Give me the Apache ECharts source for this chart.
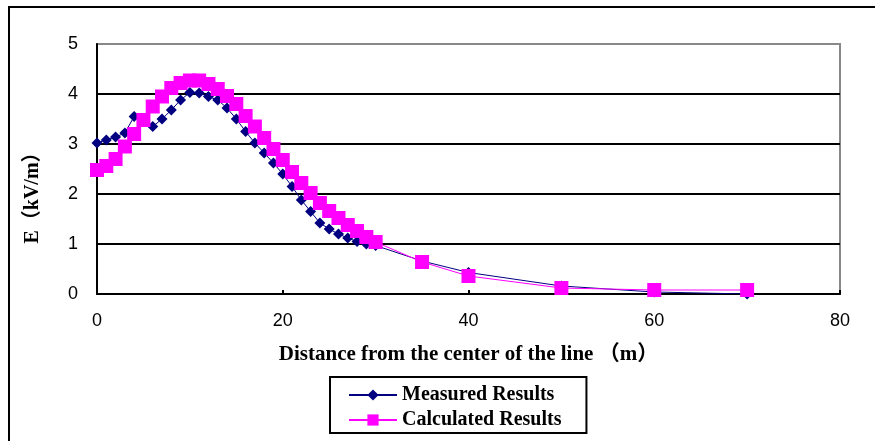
<!DOCTYPE html>
<html>
<head>
<meta charset="utf-8">
<script src="https://cdn.jsdelivr.net/npm/echarts@6/dist/echarts.min.js"></script>
<style>html,body{margin:0;padding:0;background:#fff}#c{width:875px;height:441px}</style>
</head>
<body>
<div id="c"></div>
<script>
var distances = [0,1,2,3,4,5,6,7,8,9,10,11,12,13,14,15,16,17,18,19,20,21,22,23,24,25,26,27,28,29,30,35,40,50,60,70];
var measured = [3.02,3.08,3.14,3.22,3.55,3.45,3.35,3.5,3.68,3.88,4.03,4.02,3.95,3.88,3.72,3.5,3.25,3.02,2.82,2.62,2.4,2.15,1.88,1.65,1.42,1.3,1.2,1.12,1.05,1.0,0.97,0.66,0.43,0.16,0.04,0.0];
var calculated = [2.48,2.56,2.7,2.95,3.2,3.48,3.75,3.95,4.12,4.22,4.27,4.27,4.2,4.1,3.96,3.8,3.56,3.35,3.12,2.9,2.68,2.44,2.22,2.02,1.82,1.66,1.52,1.38,1.26,1.14,1.04,0.64,0.36,0.12,0.08,0.08];
var seriesNames = ['Measured Results','Calculated Results'];
var xTitle = 'Distance from the center of the line （m）';
var yTitle = 'E（kV/m）';

function pairs(xs, ys){ return xs.map(function(x,i){ return [x, ys[i]]; }); }

var serif = '"Liberation Serif", "Noto Sans CJK SC", serif';
var sans = '"Liberation Sans", Arial, sans-serif';
var chart = echarts.init(document.getElementById('c'), null, {renderer:'canvas'});
chart.setOption({
  animation:false,
  backgroundColor:'#fff',
  graphic:[{type:'polyline', shape:{points:[[9,441],[9,7],[875,7]]}, style:{stroke:'#000', lineWidth:2, fill:null}}],
  grid:{left:97, right:35, top:44, bottom:147, show:true, borderColor:'#888', borderWidth:2, backgroundColor:'transparent'},
  legend:{
    orient:'vertical', left:330, top:377,
    padding:[8,25,3,18], itemGap:5, itemWidth:48, itemHeight:14,
    borderColor:'#000', borderWidth:2,
    textStyle:{fontFamily:serif, fontWeight:'bold', fontSize:20, color:'#000'},
    data:seriesNames
  },
  xAxis:{
    type:'value', min:0, max:80, interval:20,
    name:xTitle, nameLocation:'middle', nameGap:50,
    nameTextStyle:{fontFamily:serif, fontWeight:'bold', fontSize:21, color:'#000'},
    axisLine:{lineStyle:{color:'#000', width:2}},
    axisTick:{inside:true, length:4, lineStyle:{color:'#000', width:2}},
    axisLabel:{margin:18, fontFamily:sans, fontSize:18, color:'#000'},
    splitLine:{show:false}
  },
  yAxis:{
    type:'value', min:0, max:5, interval:1,
    name:yTitle, nameLocation:'middle', nameGap:54, nameRotate:90,
    nameTextStyle:{fontFamily:serif, fontWeight:'bold', fontSize:20, color:'#000', padding:[0,48,0,0]},
    axisLine:{show:true, lineStyle:{color:'#000', width:2}},
    axisTick:{show:false},
    axisLabel:{margin:19, fontFamily:sans, fontSize:18, color:'#000'},
    splitLine:{show:true, lineStyle:{color:['#000','#000','#000','#000','#000','#888'], width:2}}
  },
  series:[
    {name:seriesNames[0], type:'line', data:pairs(distances, measured),
     symbol:'diamond', symbolSize:11, color:'#000080',
     lineStyle:{color:'#000080', width:1}, itemStyle:{color:'#000080'}, z:2},
    {name:seriesNames[1], type:'line', data:pairs(distances, calculated),
     symbol:'rect', symbolSize:14, color:'#ff00ff',
     lineStyle:{color:'#ff00ff', width:1}, itemStyle:{color:'#ff00ff'}, z:3}
  ]
});
</script>
</body>
</html>
